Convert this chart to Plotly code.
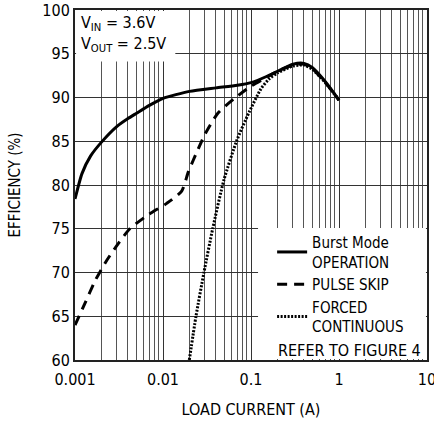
import plotly.graph_objects as go

FONT = "Liberation Sans Narrow, DejaVu Sans Condensed, Arial Narrow, sans-serif"

# Burst Mode operation (solid)
burst_x = [0.001, 0.0012, 0.0015, 0.002, 0.003, 0.004, 0.005, 0.007, 0.01, 0.02,
           0.04, 0.07, 0.1, 0.15, 0.2, 0.3, 0.4, 0.5, 0.7, 1.0]
burst_y = [78.4, 81.3, 83.3, 84.9, 86.7, 87.6, 88.2, 89.1, 89.9, 90.7,
           91.1, 91.4, 91.7, 92.4, 93.0, 93.8, 93.9, 93.4, 91.8, 89.7]

# Pulse skip (dashed)
skip_x = [0.001, 0.0013, 0.0017, 0.0023, 0.0031, 0.0042, 0.0068, 0.011, 0.0163,
          0.0194, 0.022, 0.03, 0.042, 0.065, 0.1, 0.15, 0.2, 0.3, 0.4, 0.5, 0.7, 1.0]
skip_y = [64.0, 66.5, 69.1, 71.4, 73.3, 75.0, 76.6, 77.9, 79.3,
          81.5, 82.8, 85.8, 88.2, 89.9, 91.3, 92.3, 93.0, 93.7, 93.8, 93.3, 91.7, 89.7]

# Forced continuous (dotted)
forced_x = [0.0199, 0.0237, 0.0292, 0.0367, 0.0493, 0.069, 0.095, 0.13,
            0.16, 0.2, 0.3, 0.4, 0.5, 0.7, 1.0]
forced_y = [60.0, 65.0, 70.0, 75.0, 80.6, 85.1, 88.3, 91.0,
            92.1, 92.8, 93.6, 93.7, 93.2, 91.7, 89.7]

x_ticks = [0.001, 0.01, 0.1, 1, 10]
x_labels = ["0.001", "0.01", "0.1", "1", "10"]
y_ticks = [60, 65, 70, 75, 80, 85, 90, 95, 100]

fig = go.Figure()

fig.add_trace(go.Scatter(
    x=burst_x, y=burst_y, mode="lines", name="Burst Mode<br>OPERATION",
    line=dict(color="black", width=3, shape="spline", smoothing=0.6),
))
fig.add_trace(go.Scatter(
    x=skip_x, y=skip_y, mode="lines", name="PULSE SKIP",
    line=dict(color="black", width=3, dash="10px,7px", shape="spline", smoothing=0.6),
))
fig.add_trace(go.Scatter(
    x=forced_x, y=forced_y, mode="lines", name="FORCED<br>CONTINUOUS",
    line=dict(color="black", width=3, dash="2px,1.5px", shape="spline", smoothing=0.6),
))

# white boxes that hide the grid behind the texts
fig.add_shape(type="rect", xref="paper", yref="paper", x0=0.003, x1=0.285, y0=0.853, y1=0.997,
              fillcolor="white", line_width=0, layer="above")
fig.add_shape(type="rect", xref="paper", yref="paper", x0=0.52, x1=0.997, y0=0.003, y1=0.377,
              fillcolor="white", line_width=0, layer="above")

fig.add_annotation(
    xref="paper", yref="paper", x=0.01, y=0.998, xanchor="left", yanchor="top",
    text="V<sub>IN</sub> = 3.6V<br>V<sub>OUT</sub> = 2.5V", showarrow=False, align="left",
    font=dict(family=FONT, size=16, color="black"),
)
fig.add_annotation(
    xref="paper", yref="paper", x=0.99, y=-0.005, xanchor="right", yanchor="bottom",
    text="REFER TO FIGURE 4", showarrow=False,
    font=dict(family=FONT, size=16, color="black"),
)

fig.update_layout(
    width=434, height=425,
    margin=dict(l=75, r=7, t=10, b=65, autoexpand=False),
    paper_bgcolor="white", plot_bgcolor="white",
    font=dict(family=FONT, size=16, color="black"),
    legend=dict(
        x=0.56, y=0.383, xanchor="left", yanchor="top",
        bgcolor="rgba(0,0,0,0)", font=dict(family=FONT, size=15),
        tracegroupgap=0, itemwidth=30,
    ),
)

fig.update_xaxes(
    type="log", range=[-3, 1], automargin=False,
    tickvals=x_ticks, ticktext=x_labels, ticklabeloverflow="allow",
    showgrid=True, gridcolor="#333333", gridwidth=1,
    minor=dict(dtick="D1", showgrid=True, gridcolor="#555555", gridwidth=1, ticks=""),
    showline=True, linecolor="#222222", linewidth=2, mirror=True,
    ticks="", zeroline=False, ticklabelstandoff=4,
    title=dict(text="LOAD CURRENT (A)", font=dict(family=FONT, size=16), standoff=16),
)
fig.update_yaxes(
    range=[60, 100], tickvals=y_ticks, automargin=False,
    showgrid=True, gridcolor="#333333", gridwidth=1,
    showline=True, linecolor="#222222", linewidth=2, mirror=True,
    ticks="", zeroline=False,
    title=dict(text="EFFICIENCY (%)", font=dict(family=FONT, size=15), standoff=18),
)

fig.write_html("out.html", config={"displayModeBar": False},
               post_script="document.body.style.margin='0px';")
